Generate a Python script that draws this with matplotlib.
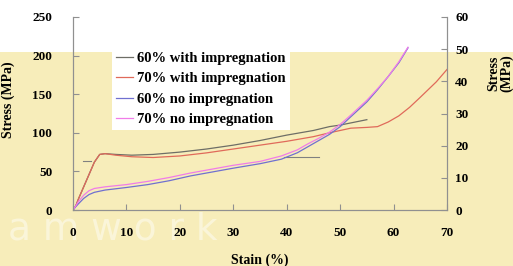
import matplotlib
matplotlib.use('Agg')
import matplotlib.pyplot as plt
from matplotlib.patches import Rectangle

# 60% / 70% with impregnation (left axis, MPa)
strain_60_imp = [0, 0.5, 1, 2, 3, 4, 5, 6, 8, 11, 15, 20, 25, 30, 35, 40, 45, 48, 50, 55]
stress_60_imp = [0, 5, 14, 30, 46, 62, 72, 73, 72, 71, 72, 75, 79, 84, 90, 97, 103, 108, 110, 117]

strain_70_imp = [0, 0.5, 1, 2, 3, 4, 5, 6, 8, 11, 15, 20, 25, 30, 35, 40, 45, 48, 52, 55, 57,
                 59, 61, 63, 65, 68, 70]
stress_70_imp = [0, 5, 14, 30, 46, 62, 72, 73, 71, 69, 68, 70, 74, 79, 84, 89, 95, 100, 106, 107, 108,
                 114, 122, 133, 146, 166, 182]

# 60% / 70% no impregnation (right axis, MPa)
strain_no = [0, 0.5, 1, 2, 3, 4, 6, 10, 14, 18, 22, 26, 30, 35, 39, 42, 44, 46, 48, 50, 52,
             55, 57, 59, 61, 62.7]
stress_60_no = [0, 1.0, 1.9, 3.6, 4.8, 5.5, 6.2, 7.0, 7.9, 9.1, 10.6, 11.8, 13.0, 14.4, 15.8, 17.8,
                19.7, 21.6, 23.5, 25.9, 29.0, 33.6, 37.4, 41.5, 45.8, 50.4]
stress_70_no = [0, 1.2, 2.6, 4.6, 6.0, 6.7, 7.2, 7.9, 8.9, 10.1, 11.5, 12.7, 13.9, 15.1, 16.8, 18.7,
                20.6, 22.3, 24.2, 26.6, 29.5, 34.1, 37.7, 41.5, 46.1, 50.6]

# short grey guide segments
guide1_strain = [1.8, 3.4]
guide1_stress = [63, 63]
guide2_strain = [39.5, 46]
guide2_stress = [69, 69]

plt.rcParams['font.family'] = ['Liberation Serif', 'DejaVu Serif']
plt.rcParams['font.weight'] = 'bold'

fig = plt.figure(figsize=(5.13, 2.66), dpi=100)
fig.patch.set_facecolor('white')
fig.patches.append(Rectangle((0, 0), 1, 0.805, transform=fig.transFigure,
                             facecolor='#f7edba', edgecolor='none', zorder=-10))
# faint watermark of the scanned page
fig.text(0.016, 0.098, 'a m w o r k', fontsize=27, color='white', alpha=0.45,
         family='DejaVu Sans', weight='normal', va='baseline', zorder=-5)

ax = fig.add_axes([0.1423, 0.2105, 0.729, 0.7256])
ax.patch.set_alpha(0)
ax2 = ax.twinx()

ax.plot(strain_60_imp, stress_60_imp, color='#6e6e66', lw=0.9, label='60% with impregnation')
ax.plot(strain_70_imp, stress_70_imp, color='#e06a5a', lw=0.9, label='70% with impregnation')
l3, = ax2.plot(strain_no, stress_60_no, color='#7070d0', lw=0.9, label='60% no impregnation')
l4, = ax2.plot(strain_no, stress_70_no, color='#f07ce8', lw=0.9, label='70% no impregnation')
ax.plot(guide1_strain, guide1_stress, color='#808080', lw=0.8)
ax.plot(guide2_strain, guide2_stress, color='#808080', lw=0.8)

ax.set_xlim(0, 70)
ax.set_ylim(0, 250)
ax2.set_ylim(0, 60)
ax.set_xticks(range(0, 71, 10))
ax.set_yticks(range(0, 251, 50))
ax2.set_yticks(range(0, 61, 10))

for a in (ax, ax2):
    a.spines['top'].set_visible(False)
    for s in a.spines.values():
        s.set_color('#909090')
        s.set_linewidth(0.8)
ax.tick_params(axis='y', direction='in', length=4, pad=15, labelsize=9.5, color='#909090')
ax.tick_params(axis='x', direction='in', length=4, pad=12, labelsize=9.5, color='#909090')
ax2.tick_params(axis='y', direction='in', length=4, pad=6, labelsize=9.5, color='#909090')

ax.set_xlabel('Stain (%)', fontsize=10, fontweight='bold')
ax.xaxis.set_label_coords(0.5, -0.225)
ax.set_ylabel('Stress (MPa)', fontsize=10, fontweight='bold')
ax.yaxis.set_label_coords(-0.155, 0.57)
fig.text(0.975, 0.725, 'Stress\n(MPa)', rotation=90, fontsize=10, fontweight='bold',
         ha='center', va='center', linespacing=1.0)

h1, lab1 = ax.get_legend_handles_labels()
leg = ax2.legend(h1[:2] + [l3, l4], lab1[:2] + [l3.get_label(), l4.get_label()],
                 loc='upper left', bbox_to_anchor=(0.104, 0.84), borderaxespad=0,
                 fontsize=10.5, frameon=True, fancybox=False, handlelength=1.2,
                 handletextpad=0.3, labelspacing=0.5, borderpad=0.25)
leg.get_frame().set_facecolor('white')
leg.get_frame().set_edgecolor('none')
leg.get_frame().set_alpha(1)

fig.savefig('out.png', dpi=100)
